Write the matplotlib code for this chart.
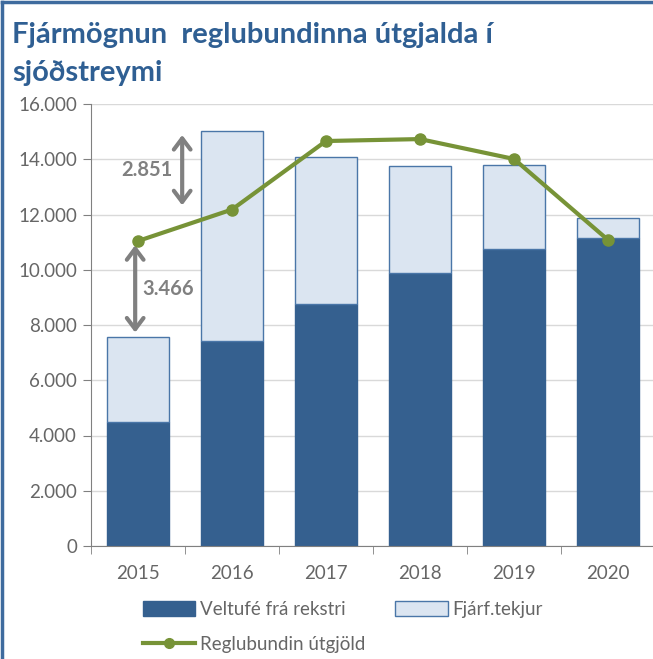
import matplotlib.pyplot as plt
from matplotlib.lines import Line2D
from matplotlib.patches import Patch
import numpy as np

years = ['2015', '2016', '2017', '2018', '2019', '2020']
veltufe = [4490, 7420, 8760, 9880, 10750, 11150]
heild = [7575, 15030, 14080, 13760, 13790, 11870]
fjarf = [h - v for h, v in zip(heild, veltufe)]
utgjold = [11041, 12180, 14660, 14730, 14010, 11080]
yticks = [0, 2000, 4000, 6000, 8000, 10000, 12000, 14000, 16000]
ytick_labels = ['0', '2.000', '4.000', '6.000', '8.000', '10.000', '12.000', '14.000', '16.000']

dark = '#35608f'
light = '#dbe5f1'
edge = '#4a76a8'
green = '#779337'
grey = '#808080'
txt = '#666666'

plt.rcParams['font.family'] = ['Lato', 'DejaVu Sans']

fig = plt.figure(figsize=(6.53, 6.59), dpi=100)
ax = fig.add_axes([91 / 653, 1 - 546 / 659, 564 / 653, 442 / 659])

x = np.arange(len(years))
ax.bar(x, veltufe, width=0.67, color=dark, edgecolor=dark, linewidth=1, zorder=2)
ax.bar(x, fjarf, bottom=veltufe, width=0.67, color=light, edgecolor=edge, linewidth=1, zorder=2)
ax.plot(x, utgjold, color=green, lw=3, marker='o', markersize=8, zorder=4)

ax.set_xlim(-0.5, 5.5)
ax.set_ylim(0, 16000)
ax.set_yticks(yticks)
ax.set_yticklabels(ytick_labels)
ax.set_xticks(x)
ax.set_xticklabels(years)
ax.set_xticks(np.arange(-0.5, 6, 1), minor=True)
ax.tick_params(axis='x', which='major', length=0, pad=14, labelsize=13.5, labelcolor=txt)
ax.tick_params(axis='x', which='minor', length=6, color=grey)
ax.tick_params(axis='y', length=6, color=grey, labelsize=13.5, labelcolor=txt, pad=4)
ax.grid(axis='y', color='#d9d9d9', lw=1, zorder=0)
ax.set_axisbelow(True)
for s in ['top', 'right']:
    ax.spines[s].set_visible(False)
ax.spines['left'].set_color(grey)
ax.spines['bottom'].set_color(grey)

# arrows showing the gaps
arrow = dict(arrowstyle='<->,head_length=0.8,head_width=0.6', color=grey, lw=3, shrinkA=3, shrinkB=3)
ax.annotate('', xy=(-0.03, utgjold[0]), xytext=(-0.03, heild[0]), arrowprops=arrow)
ax.annotate('', xy=(0.47, heild[1]), xytext=(0.47, utgjold[1]), arrowprops=arrow)
ax.text(0.05, 9300, '3.466', color=grey, fontsize=14.5, fontweight='bold', va='center', ha='left')
ax.text(0.37, 13600, '2.851', color=grey, fontsize=14.5, fontweight='bold', va='center', ha='right')

fig.text(12 / 653, 1 - 35 / 659, 'Fjármögnun  reglubundinna útgjalda í', color='#2f5f93',
         fontsize=21, fontweight='bold', va='center', ha='left')
fig.text(12 / 653, 1 - 73 / 659, 'sjóðstreymi', color='#2f5f93',
         fontsize=21, fontweight='bold', va='center', ha='left')

handles = [Patch(facecolor=dark, edgecolor=dark),
           Line2D([], [], color=green, lw=3, marker='o', markersize=7),
           Patch(facecolor=light, edgecolor=edge)]
labels = ['Veltufé frá rekstri', 'Reglubundin útgjöld', 'Fjárf.tekjur']
fig.legend(handles, labels, ncol=2, loc='upper left', bbox_to_anchor=(126 / 653, 1 - 584 / 659),
           frameon=False, fontsize=13.5, labelcolor=txt, handlelength=2.8, handleheight=0.8,
           handletextpad=0.25, columnspacing=1.6, labelspacing=0.95)

# frame of the chart
fig.add_artist(Line2D([2 / 653, 2 / 653], [0, 1 - 2 / 659], color='#3e6b9e', lw=2.5))
fig.add_artist(Line2D([2 / 653, 1], [1 - 2 / 659, 1 - 2 / 659], color='#3e6b9e', lw=2.5))

fig.savefig('out.png', dpi=100)
